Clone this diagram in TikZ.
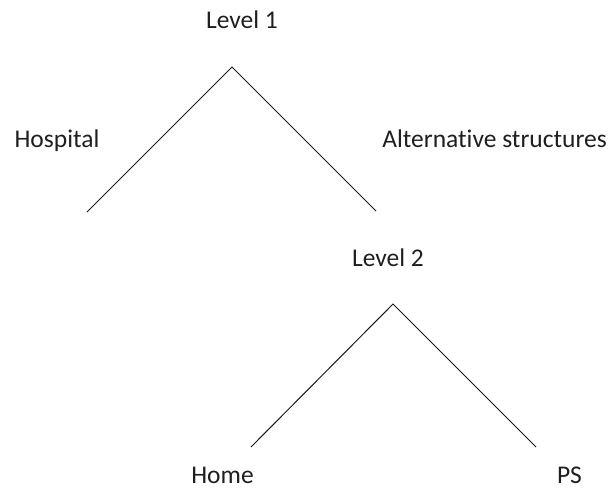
\documentclass[tikz,border=0pt]{standalone}
\usepackage{fontspec}
\setmainfont{Carlito}[Ligatures=NoCommon]
\begin{document}
\begin{tikzpicture}[x=1pt,y=-1pt,
  lbl/.style={anchor=base,inner sep=0pt,font=\fontsize{25.5}{30}\selectfont,text=black!88},
  branch/.style={line width=1pt,draw=black!90}]
\useasboundingbox (0,0) rectangle (614,488);
\node[lbl] (l1) at (242,28) {Level 1};
\node[lbl] (hosp) at (57,147) {Hospital};
\node[lbl] (alt) at (494.5,147) {Alternative structures};
\node[lbl] (l2) at (388,266) {Level 2};
\node[lbl] (home) at (222.5,483) {Home};
\node[lbl] (ps) at (569.5,483) {PS};
\coordinate (a1) at (232,67);
\coordinate (a1l) at (87,212);
\coordinate (a1r) at (376,211);
\coordinate (a2) at (393,304);
\coordinate (a2l) at (251,447);
\coordinate (a2r) at (536,447);
\draw[branch] (a1l) -- (a1) -- (a1r);
\draw[branch] (a2l) -- (a2) -- (a2r);
\end{tikzpicture}
\end{document}
